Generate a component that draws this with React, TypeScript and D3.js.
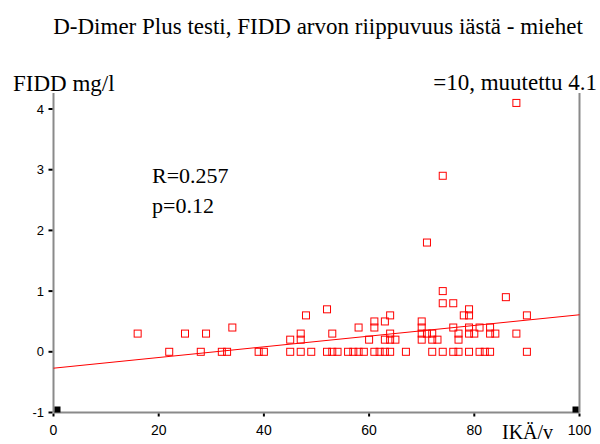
import * as d3 from "d3";
import React from "react";

// age (years) and FIDD (mg/l)
const ages = [
  16, 22, 25, 28, 29, 32, 33, 34, 39, 40, 45, 45, 47, 47, 47, 48, 49, 52, 52, 53,
  53, 54, 56, 57, 58, 59, 58, 60, 61, 61, 61, 62, 63, 64, 63, 64, 63, 64, 65, 64,
  67, 70, 70, 70, 70, 71, 72, 72, 73, 72, 74, 74, 74, 76, 76, 76, 77, 77, 77, 78,
  79, 79, 79, 79, 80, 81, 79, 81, 82, 83, 83, 83, 84, 86, 88, 90, 90, 88, 74, 71,
];
const fidd = [
  0.3, 0, 0.3, 0, 0.3, 0, 0, 0.4, 0, 0, 0.2, 0, 0.3, 0.2, 0, 0.6, 0, 0.7, 0, 0.3,
  0, 0, 0, 0, 0, 0, 0.4, 0.2, 0.5, 0.4, 0, 0, 0, 0, 0.5, 0.6, 0.2, 0.2, 0.2, 0.3,
  0, 0.5, 0.4, 0.3, 0.2, 0.3, 0.3, 0.2, 0.2, 0, 0, 1.0, 0.8, 0.8, 0.4, 0, 0, 0.3, 0.2, 0.6,
  0.7, 0.6, 0.4, 0.3, 0.3, 0.4, 0, 0, 0, 0, 0.4, 0.3, 0.3, 0.9, 0.3, 0.6, 0, 4.1, 2.9, 1.8,
];

// fitted line as drawn
const fitIntercept = -0.27;
const fitSlope = 0.0088;

const xTicks = [0, 20, 40, 60, 80, 100];
const yTicks = [-1, 0, 1, 2, 3, 4];

const title = "D-Dimer Plus testi, FIDD arvon riippuvuus iästä - miehet";
const yLabel = "FIDD mg/l";
const xLabel = "IKÄ/v";
const note = "=10, muutettu 4.1";
const stats = ["R=0.257", "p=0.12"];

export default function App() {
  const width = 600;
  const height = 444;

  const x = d3.scaleLinear().domain([0, 100]).range([53.5, 579.5]);
  const y = d3.scaleLinear().domain([-1, 4]).range([412.5, 109]);

  const line = d3.line<number>()
    .x(d => x(d))
    .y(d => y(fitIntercept + fitSlope * d));

  const serif = "'Liberation Serif', 'Times New Roman', serif";
  const sans = "'Liberation Sans', Arial, sans-serif";
  const axisColor = "#8a8a8a";
  const boxTop = 93;

  return (
    <svg width={width} height={height} style={{ position: "absolute", left: 0, top: 0, background: "#fff" }}>
      {/* Title */}
      <text x={318} y={34} textAnchor="middle" fontFamily={serif} fontSize={23}>{title}</text>

      <text x={13} y={91} fontFamily={serif} fontSize={23}>{yLabel}</text>
      <text x={597} y={90} textAnchor="end" fontFamily={serif} fontSize={23}>{note}</text>

      {stats.map((s, i) => (
        <text key={s} x={152} y={183 + i * 30} fontFamily={serif} fontSize={22}>{s}</text>
      ))}

      {/* Axes */}
      <line x1={x(0)} x2={x(0)} y1={boxTop} y2={y(-1)} stroke={axisColor} strokeWidth={2} />
      <line x1={x(100)} x2={x(100)} y1={boxTop} y2={y(-1)} stroke={axisColor} strokeWidth={2} />
      <line x1={x(0)} x2={x(100)} y1={y(-1)} y2={y(-1)} stroke={axisColor} strokeWidth={2} />

      {yTicks.map(t => (
        <g key={"y" + t}>
          <line x1={x(0) - 5} x2={x(0) - 1} y1={y(t)} y2={y(t)} stroke="#000" strokeWidth={2} />
          <text x={44} y={y(t)} dy="0.35em" textAnchor="end" fontFamily={sans} fontSize={13}>{t}</text>
        </g>
      ))}

      {xTicks.map(t => (
        <g key={"x" + t}>
          <line x1={x(t)} x2={x(t)} y1={y(-1) + 1} y2={y(-1) + 4} stroke="#000" strokeWidth={2} />
          <text x={x(t)} y={435} textAnchor="middle" fontFamily={sans} fontSize={14}>{t}</text>
        </g>
      ))}

      <text x={502} y={439} fontFamily={serif} fontSize={20}>{xLabel}</text>

      {/* Corner markers */}
      <rect x={x(0) + 1} y={y(-1) - 6} width={6} height={6} fill="#000" />
      <rect x={x(100) - 7} y={y(-1) - 6} width={6} height={6} fill="#000" />

      {/* Fit line */}
      <path d={line([0, 100]) || ""} fill="none" stroke="#ff0000" strokeWidth={1} />

      {/* Points */}
      {ages.map((a, i) => (
        <rect
          key={i}
          x={x(a) - 3.5}
          y={y(fidd[i]) - 3.5}
          width={7}
          height={7}
          fill="none"
          stroke="#ff0000"
          strokeWidth={1}
        />
      ))}
    </svg>
  );
}
